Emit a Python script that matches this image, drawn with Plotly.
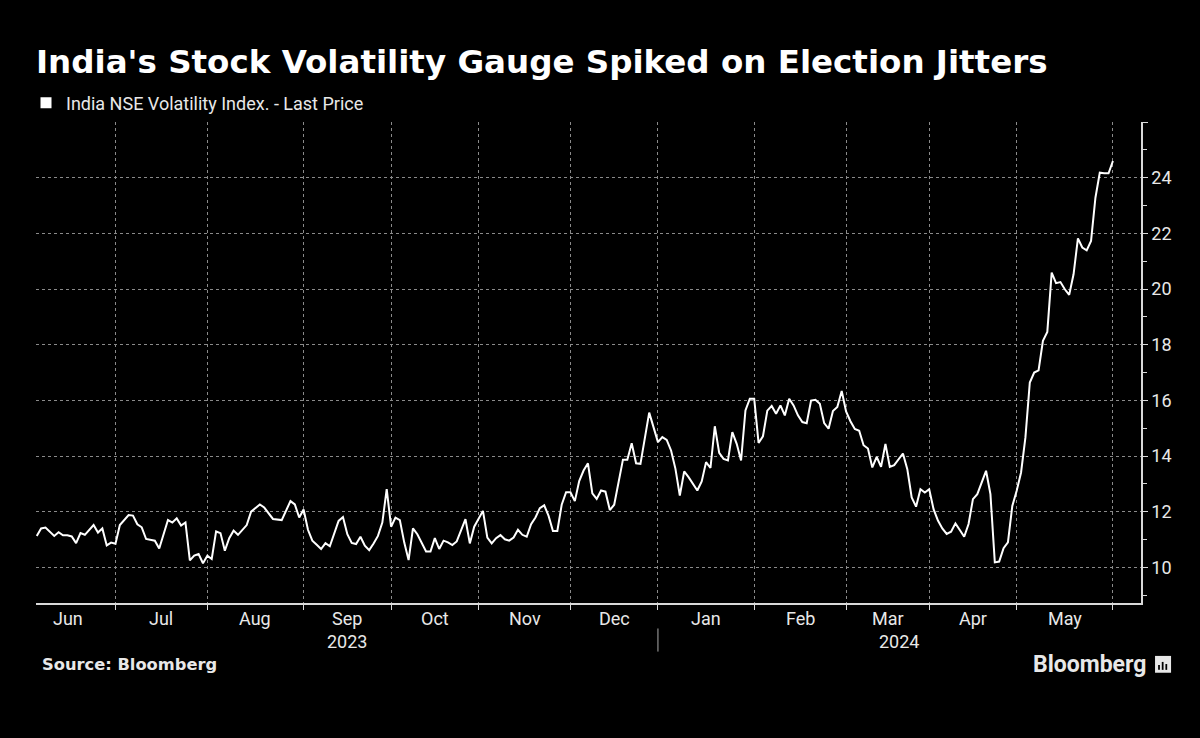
import plotly.graph_objects as go
import pandas as pd

TITLE = "India's Stock Volatility Gauge Spiked on Election Jitters"
SERIES_NAME = "India NSE Volatility Index. - Last Price"
SOURCE = "Source: Bloomberg"
BRAND = "Bloomberg"

DATES = [
    "2023-06-05", "2023-06-06", "2023-06-07", "2023-06-08", "2023-06-09", "2023-06-12", "2023-06-13",
    "2023-06-14", "2023-06-15", "2023-06-16", "2023-06-19", "2023-06-20", "2023-06-22", "2023-06-23",
    "2023-06-26", "2023-06-27", "2023-06-28", "2023-06-30", "2023-07-03", "2023-07-05", "2023-07-06",
    "2023-07-07", "2023-07-10", "2023-07-11", "2023-07-12", "2023-07-13", "2023-07-14", "2023-07-18",
    "2023-07-19", "2023-07-20", "2023-07-21", "2023-07-24", "2023-07-25", "2023-07-26", "2023-07-27",
    "2023-07-28", "2023-07-31", "2023-08-01", "2023-08-02", "2023-08-03", "2023-08-04", "2023-08-07",
    "2023-08-08", "2023-08-09", "2023-08-11", "2023-08-14", "2023-08-17", "2023-08-18", "2023-08-22",
    "2023-08-24", "2023-08-28", "2023-08-29", "2023-08-30", "2023-08-31", "2023-09-01", "2023-09-04",
    "2023-09-05", "2023-09-06", "2023-09-07", "2023-09-08", "2023-09-12", "2023-09-13", "2023-09-14",
    "2023-09-15", "2023-09-18", "2023-09-20", "2023-09-21", "2023-09-22", "2023-09-25", "2023-09-26",
    "2023-09-27", "2023-09-28", "2023-09-29", "2023-10-03", "2023-10-04", "2023-10-05", "2023-10-06",
    "2023-10-09", "2023-10-10", "2023-10-11", "2023-10-12", "2023-10-13", "2023-10-16", "2023-10-17",
    "2023-10-18", "2023-10-19", "2023-10-20", "2023-10-23", "2023-10-25", "2023-10-26", "2023-10-27",
    "2023-10-30", "2023-11-01", "2023-11-02", "2023-11-03", "2023-11-06", "2023-11-07", "2023-11-08",
    "2023-11-09", "2023-11-10", "2023-11-12", "2023-11-13", "2023-11-15", "2023-11-16", "2023-11-17",
    "2023-11-20", "2023-11-21", "2023-11-22", "2023-11-23", "2023-11-24", "2023-11-28", "2023-11-29",
    "2023-11-30", "2023-12-01", "2023-12-04", "2023-12-05", "2023-12-06", "2023-12-07", "2023-12-08",
    "2023-12-11", "2023-12-12", "2023-12-13", "2023-12-14", "2023-12-18", "2023-12-19", "2023-12-20",
    "2023-12-21", "2023-12-22", "2023-12-27", "2023-12-28", "2023-12-29", "2024-01-01", "2024-01-02",
    "2024-01-03", "2024-01-04", "2024-01-05", "2024-01-08", "2024-01-09", "2024-01-11", "2024-01-12",
    "2024-01-15", "2024-01-16", "2024-01-17", "2024-01-18", "2024-01-19", "2024-01-20", "2024-01-23",
    "2024-01-24", "2024-01-25", "2024-01-29", "2024-01-30", "2024-01-31", "2024-02-01", "2024-02-02",
    "2024-02-05", "2024-02-06", "2024-02-07", "2024-02-08", "2024-02-09", "2024-02-12", "2024-02-13",
    "2024-02-14", "2024-02-15", "2024-02-16", "2024-02-19", "2024-02-20", "2024-02-21", "2024-02-22",
    "2024-02-23", "2024-02-26", "2024-02-27", "2024-02-28", "2024-02-29", "2024-03-01", "2024-03-02",
    "2024-03-04", "2024-03-05", "2024-03-06", "2024-03-07", "2024-03-11", "2024-03-12", "2024-03-13",
    "2024-03-14", "2024-03-15", "2024-03-19", "2024-03-20", "2024-03-21", "2024-03-22", "2024-03-26",
    "2024-03-27", "2024-03-28", "2024-04-01", "2024-04-02", "2024-04-03", "2024-04-04", "2024-04-05",
    "2024-04-08", "2024-04-09", "2024-04-10", "2024-04-12", "2024-04-15", "2024-04-16", "2024-04-18",
    "2024-04-19", "2024-04-22", "2024-04-23", "2024-04-24", "2024-04-25", "2024-04-26", "2024-04-29",
    "2024-04-30", "2024-05-02", "2024-05-03", "2024-05-06", "2024-05-07", "2024-05-08", "2024-05-09",
    "2024-05-10", "2024-05-13", "2024-05-14", "2024-05-15", "2024-05-16", "2024-05-17", "2024-05-18",
    "2024-05-21", "2024-05-22", "2024-05-23", "2024-05-24", "2024-05-27", "2024-05-28", "2024-05-29",
    "2024-05-30", "2024-05-31",
]

VIX = [
    11.13, 11.40, 11.43, 11.29, 11.13, 11.26, 11.15,
    11.15, 11.11, 10.87, 11.23, 11.17, 11.52, 11.25,
    11.40, 10.79, 10.89, 10.85, 11.52, 11.88, 11.86,
    11.55, 11.44, 11.02, 10.98, 10.96, 10.68, 11.70,
    11.61, 11.76, 11.50, 11.61, 10.25, 10.42, 10.48,
    10.15, 10.42, 10.30, 11.29, 11.23, 10.60, 11.05,
    11.32, 11.17, 11.52, 12.00, 12.26, 12.15, 11.74,
    11.70, 12.38, 12.26, 11.79, 12.08, 11.35, 10.96,
    10.81, 10.66, 10.87, 10.76, 11.67, 11.81, 11.19,
    10.88, 10.84, 11.10, 10.78, 10.62, 10.86, 11.13,
    11.61, 12.81, 11.46, 11.79, 11.70, 10.90, 10.26,
    11.40, 11.19, 10.90, 10.57, 10.57, 11.05, 10.66,
    10.96, 10.90, 10.80, 10.93, 11.31, 11.73, 10.86,
    11.46, 12.03, 11.07, 10.86, 11.05, 11.16, 11.01,
    10.96, 11.07, 11.35, 11.17, 11.10, 11.55, 11.79,
    12.13, 12.23, 11.85, 11.31, 11.31, 12.25, 12.70,
    12.70, 12.38, 13.10, 13.48, 13.74, 12.66, 12.46,
    12.76, 12.72, 12.06, 12.25, 13.87, 13.87, 14.46,
    13.74, 13.72, 15.56, 14.98, 14.50, 14.68, 14.58,
    14.20, 13.54, 12.58, 13.45, 13.24, 12.76, 13.09,
    13.78, 13.57, 15.07, 14.11, 13.90, 13.84, 14.86,
    14.44, 13.84, 15.64, 16.06, 16.06, 14.47, 14.71,
    15.63, 15.80, 15.52, 15.82, 15.46, 16.06, 15.82,
    15.46, 15.22, 15.18, 15.99, 16.02, 15.88, 15.18,
    14.98, 15.62, 15.76, 16.34, 15.60, 15.25, 14.97,
    14.91, 14.39, 14.27, 13.59, 13.97, 13.61, 14.43,
    13.61, 13.67, 14.09, 13.53, 12.51, 12.18, 12.81,
    12.69, 12.81, 12.09, 11.68, 11.40, 11.20, 11.28,
    11.58, 11.34, 11.10, 11.56, 12.45, 12.63, 13.05,
    13.47, 12.63, 10.18, 10.21, 10.69, 10.90, 12.21,
    12.75, 13.41, 14.67, 16.64, 17.00, 17.08, 18.14,
    18.46, 20.59, 20.21, 20.25, 19.99, 19.79, 20.53,
    21.82, 21.49, 21.39, 21.73, 23.28, 24.18, 24.16,
    24.16, 24.60,
]

# NSE non-trading weekdays and weekend trading sessions (axis skips non-trading days)
HOLIDAYS = [
    "2023-06-29", "2023-08-15", "2023-09-19", "2023-10-02", "2023-10-24", "2023-11-14",
    "2023-11-27", "2023-12-25", "2024-01-22", "2024-01-26", "2024-03-08", "2024-03-25",
    "2024-03-29", "2024-04-11", "2024-04-17", "2024-05-01", "2024-05-20",
]
SPECIAL_SESSIONS = ["2023-11-12", "2024-01-20", "2024-03-02", "2024-05-18"]

# month boundaries (last session of each month) and centred month labels
MONTH_BOUNDARIES = [
    "2023-06-30", "2023-07-31", "2023-08-31", "2023-09-29", "2023-10-31", "2023-11-30",
    "2023-12-29", "2024-01-31", "2024-02-29", "2024-03-28", "2024-04-30", "2024-05-31",
]
MONTH_LABELS = ["Jun", "Jul", "Aug", "Sep", "Oct", "Nov", "Dec", "Jan", "Feb", "Mar", "Apr", "May"]
MONTH_LABEL_AT = [
    "2023-06-14 04:00", "2023-07-14 12:00", "2023-08-16", "2023-09-14", "2023-10-16",
    "2023-11-13 12:00", "2023-12-14", "2024-01-15", "2024-02-14 12:00", "2024-03-13 12:00",
    "2024-04-15", "2024-05-16",
]
YEAR_LABELS = ["2023", "2024"]
YEAR_LABEL_AT = ["2023-09-13 22:00", "2024-03-18 05:00"]
YEAR_SEPARATOR_AT = "2023-12-29"

Y_TICKS = [10, 12, 14, 16, 18, 20, 22, 24, 26]
Y_TICK_TEXT = ["10", "12", "14", "16", "18", "20", "22", "24", ""]
Y_MINOR = [9, 11, 13, 15, 17, 19, 21, 23, 25]
X_RANGE = ["2023-06-02 20:00", "2024-06-10 10:00"]
Y_RANGE = [8.72, 26]

# ---- build non-trading day list for rangebreaks
days = pd.date_range("2023-05-15", "2024-06-30", freq="D")
sess = set(pd.to_datetime(SPECIAL_SESSIONS))
hol = set(pd.to_datetime(HOLIDAYS))
closed = [d.strftime("%Y-%m-%d") for d in days
          if (d.weekday() >= 5 and d not in sess) or d in hol]

FONT = "Roboto, 'DejaVu Sans', sans-serif"
BOLD_FONT = "'DejaVu Sans', Roboto, sans-serif"
TXT = "#e8e8e8"
GRID = "#8a8a8a"
AXIS = "#d9d9d9"

fig = go.Figure()
fig.add_trace(go.Scatter(
    x=DATES, y=VIX, mode="lines", line=dict(color="white", width=2),
    showlegend=False, hoverinfo="x+y",
))
fig.add_trace(go.Scatter(
    x=[None], y=[None], mode="markers", name=SERIES_NAME,
    marker=dict(symbol="square", size=11, color="white"),
))

annotations = []
for lab, at in zip(MONTH_LABELS, MONTH_LABEL_AT):
    annotations.append(dict(x=at, y=0, xref="x", yref="paper", text=lab, showarrow=False,
                            xanchor="center", yanchor="top", yshift=-3,
                            font=dict(family=FONT, size=18, color=TXT)))
for lab, at in zip(YEAR_LABELS, YEAR_LABEL_AT):
    annotations.append(dict(x=at, y=0, xref="x", yref="paper", text=lab, showarrow=False,
                            xanchor="center", yanchor="top", yshift=-26,
                            font=dict(family=FONT, size=18, color=TXT)))
annotations.append(dict(x=0.004, y=-0.128, xref="paper", yref="paper", text="<b>" + SOURCE + "</b>",
                        showarrow=False, xanchor="left", yanchor="middle",
                        font=dict(family=BOLD_FONT, size=16.3, color=TXT)))
annotations.append(dict(x=1.006, y=-0.128, xref="paper", yref="paper", text="<b>" + BRAND + "</b>",
                        showarrow=False, xanchor="right", yanchor="middle",
                        font=dict(family=FONT, size=23, color=TXT)))

shapes = [
    dict(type="line", xref="x", yref="paper", x0=YEAR_SEPARATOR_AT, x1=YEAR_SEPARATOR_AT,
         y0=-0.053, y1=-0.101, line=dict(color="#aaaaaa", width=1)),
    # Bloomberg chart icon
    dict(type="rect", xref="paper", yref="paper", x0=1.0127, x1=1.0272, y0=-0.145, y1=-0.110,
         fillcolor=TXT, line=dict(width=0)),
]
for i, h in enumerate([0.45, 0.75, 0.55]):
    x0 = 1.0155 + i * 0.0033
    shapes.append(dict(type="rect", xref="paper", yref="paper", x0=x0, x1=x0 + 0.0016,
                       y0=-0.139, y1=-0.139 + 0.022 * h, fillcolor="black", line=dict(width=0)))

fig.update_layout(
    width=1200, height=738,
    paper_bgcolor="black", plot_bgcolor="black",
    margin=dict(l=36, r=59, t=122, b=135, autoexpand=False),
    title=dict(text="<b>" + TITLE + "</b>", x=36 / 1200, xanchor="left", xref="container",
               y=1 - 62 / 738, yanchor="middle", yref="container",
               font=dict(family=BOLD_FONT, size=32.5, color="white")),
    legend=dict(x=26 / 1200, xref="container", xanchor="left",
                y=1 - 103 / 738, yref="container", yanchor="middle",
                font=dict(family=FONT, size=18, color=TXT), bgcolor="rgba(0,0,0,0)",
                itemclick=False),
    xaxis=dict(
        type="date", range=X_RANGE, rangebreaks=[dict(values=closed)],
        tickmode="array", tickvals=MONTH_BOUNDARIES, showticklabels=False,
        ticks="outside", ticklen=5, tickcolor=AXIS,
        showgrid=True, gridcolor=GRID, griddash="dot", gridwidth=1,
        showline=True, linecolor=AXIS, linewidth=1.5,
        zeroline=False, automargin=False,
    ),
    yaxis=dict(
        side="right", range=Y_RANGE, tickmode="array", tickvals=Y_TICKS, ticktext=Y_TICK_TEXT,
        ticks="outside", ticklen=5, tickcolor=AXIS,
        minor=dict(tickmode="array", tickvals=Y_MINOR, ticks="outside", ticklen=4,
                   tickcolor=AXIS, showgrid=False),
        showgrid=True, gridcolor=GRID, griddash="dot", gridwidth=1,
        showline=True, linecolor=AXIS, linewidth=1.5,
        tickfont=dict(family=FONT, size=18, color=TXT),
        zeroline=False, automargin=False,
    ),
    annotations=annotations,
    shapes=shapes,
    hovermode="closest",
)

fig.write_html("out.html")
